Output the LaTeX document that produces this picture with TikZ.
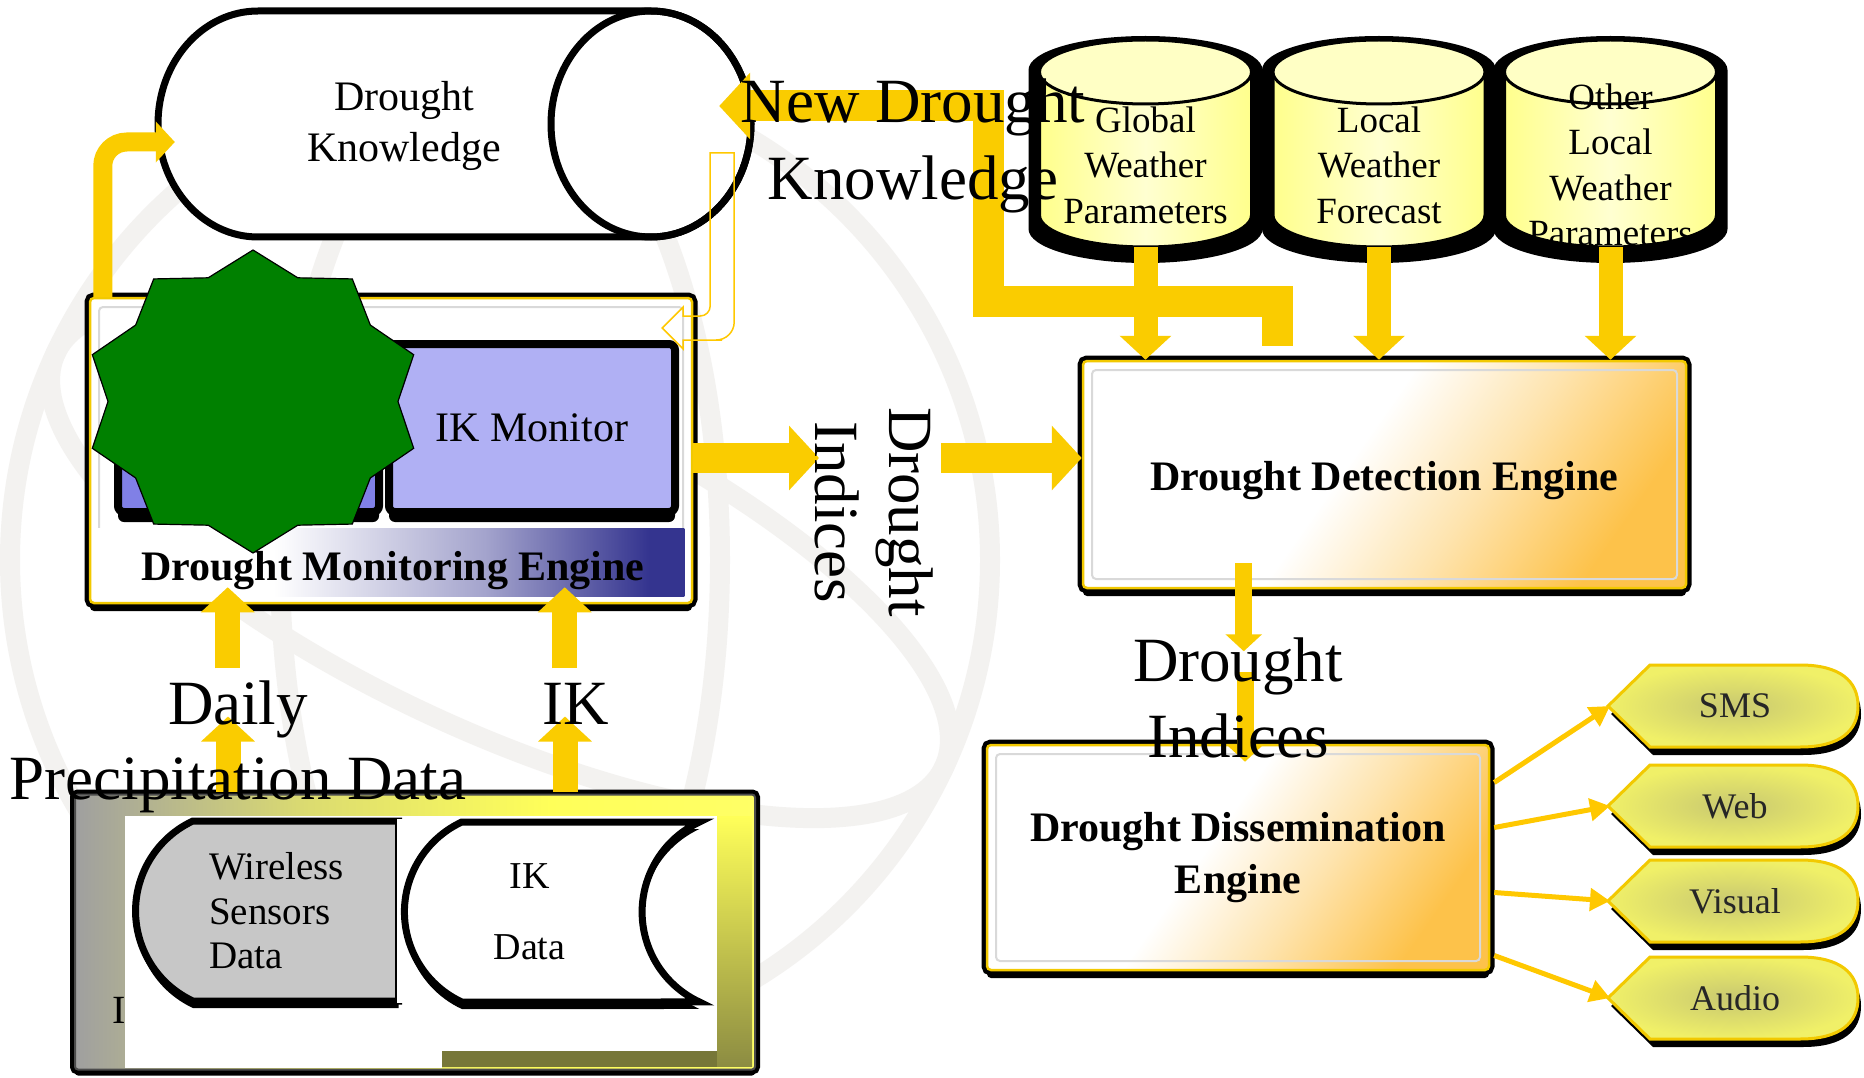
\documentclass[tikz,border=0pt]{standalone}
\usepackage{fontspec}
\setmainfont{Liberation Serif}
\usetikzlibrary{shapes.geometric, shapes.misc, arrows.meta, calc, shadows, positioning}

\definecolor{arrowgold}{RGB}{250,204,0}
\definecolor{linegold}{RGB}{255,200,0}
\definecolor{framegold}{RGB}{242,201,0}
\definecolor{dbyellow}{RGB}{255,255,140}
\definecolor{outyellow}{RGB}{240,240,104}
\definecolor{outcore}{RGB}{200,200,112}
\definecolor{panelblue}{RGB}{176,176,244}
\definecolor{paneldark}{RGB}{128,128,230}
\definecolor{bandblue}{RGB}{52,52,143}
\definecolor{stargreen}{RGB}{0,128,0}
\definecolor{ddeorange}{RGB}{253,194,74}
\definecolor{storeolive}{RGB}{140,140,66}
\definecolor{wmgray}{RGB}{243,242,240}

\pgfdeclarehorizontalshading{bandshade}{100bp}{color(0bp)=(white); color(25bp)=(white); color(40bp)=(white); color(58bp)=(bandblue!45); color(72bp)=(bandblue); color(100bp)=(bandblue)}
\pgfdeclarehorizontalshading{engineshade}{100bp}{color(0bp)=(white); color(25bp)=(white); color(46bp)=(white); color(60bp)=(ddeorange!45); color(75bp)=(ddeorange); color(100bp)=(ddeorange)}
\pgfdeclarehorizontalshading{storeshade}{100bp}{color(0bp)=(gray!75); color(25bp)=(gray!75); color(42bp)=(gray!40!yellow!70); color(60bp)=(yellow!65); color(75bp)=(yellow!60); color(100bp)=(yellow!60)}

\tikzstyle{engine} = [rectangle, rounded corners=4, draw=framegold, line width=2.5, preaction={draw=black, line width=11}, drop shadow={fill=black, opacity=1, shadow xshift=0pt, shadow yshift=-8pt}, path picture={\draw[gray!30, line width=2] ($(path picture bounding box.north west)+(9,9)$) rectangle ($(path picture bounding box.south east)+(-9,-9)$);}, font=\fontsize{42}{52}\selectfont\bfseries, align=center]
\tikzstyle{panel} = [rectangle, rounded corners=6, minimum width=286, minimum height=168, draw=black, line width=8, drop shadow={fill=black, opacity=1, shadow xshift=0pt, shadow yshift=-10pt}, font=\fontsize{42}{50}\selectfont]
\tikzstyle{burst} = [star, star points=10, star point ratio=1.165, minimum size=303, inner sep=0, xscale=1.115, fill=stargreen, draw=black, line width=1.2]
\tikzstyle{store} = [rectangle, rounded corners=3, minimum width=680, minimum height=275, draw=black!70, line width=2, shade, shading=storeshade, preaction={draw=black, line width=10}, drop shadow={fill=black, opacity=1, shadow xshift=0pt, shadow yshift=-6pt}]
\tikzstyle{datashape} = [rounded rectangle, rounded rectangle arc length=130, minimum height=180, draw=black, line width=7, drop shadow={fill=black, opacity=1, shadow xshift=0pt, shadow yshift=-7pt}, inner sep=0]
\tikzstyle{outbox} = [draw=framegold, line width=3, inner color=outcore, outer color=outyellow]
\tikzstyle{outtext} = [font=\fontsize{36}{40}\selectfont, text=black!85, inner sep=0]
\tikzstyle{bigtext} = [font=\fontsize{63}{76}\selectfont, align=center, inner sep=0]
\tikzstyle{dbtext} = [font=\fontsize{37}{45.5}\selectfont, align=center, inner sep=0]
\tikzstyle{fatarrow} = [draw=arrowgold, -{Triangle[length=0pt 1, width=0pt 2.1]}]
\tikzstyle{thinarrow} = [draw=linegold, line width=5, -{Triangle[length=0pt 4, width=0pt 4.4]}]

\newcommand{\outpath}[1]{(1608,#1) -- (1650,#1-41) -- (1800,#1-41) .. controls (1840,#1-41) and (1858,#1-25) .. (1858,#1) .. controls (1858,#1+25) and (1840,#1+41) .. (1800,#1+41) -- (1650,#1+41) -- cycle}

\begin{document}
\begin{tikzpicture}[x=1pt, y=-1pt]

\useasboundingbox (0,0) rectangle (1864,1078);
\fill[white] (0,0) rectangle (1864,1078);

% faint globe in the back
\begin{scope}[wmgray, line width=20]
\draw (500,560) circle (490);
\draw (500,560) ellipse (220 and 490);
\draw[rotate around={-25:(500,560)}] (500,560) ellipse (490 and 170);
\end{scope}

% Drought knowledge store (lying cylinder)
\draw[black, line width=7, fill=white] (651,11) -- (258,11) arc[start angle=270, end angle=90, x radius=100, y radius=113] -- (651,237) arc[start angle=90, end angle=-90, x radius=100, y radius=113] -- cycle;
\draw[black, line width=7] (651,124) ellipse [x radius=100, y radius=113];
\node (dk) [font=\fontsize{42}{51}\selectfont, align=center, inner sep=0, minimum width=492, minimum height=226] at (404,126) {Drought\\Knowledge};

% weather sources (standing cylinders)
\foreach \nm/\cx/\txt in {gwp/1145.5/{Global\\Weather\\Parameters}, lwf/1379/{Local\\Weather\\Forecast}, olwp/1610.5/{Other\\Local\\Weather\\Parameters}}
{
  \fill[black] (\cx-117,70) -- (\cx-117,229) arc[start angle=180, end angle=0, x radius=117, y radius=34] -- (\cx+117,70) arc[start angle=0, end angle=-180, x radius=117, y radius=34] -- cycle;
  \draw[black, line width=3, left color=dbyellow, right color=dbyellow, middle color=dbyellow!40!white] (\cx-106,72) -- (\cx-106,215) arc[start angle=180, end angle=0, x radius=106, y radius=32] -- (\cx+106,72) arc[start angle=0, end angle=-180, x radius=106, y radius=32] -- cycle;
  \draw[black, line width=3, fill=dbyellow!50!white] (\cx,72) ellipse [x radius=106, y radius=32];
  \node (\nm) [dbtext, minimum width=212, minimum height=164] at (\cx,165) {\txt};
}

% monitoring engine
\node (dme) [engine, fill=white, minimum width=602, minimum height=305] at (391,450.5) {};
\shade[shading=bandshade] ($(dme.south west)+(9,-8)$) rectangle ($(dme.south east)+(-9,-76)$);
\node (dmpanel) [panel, fill=paneldark, minimum width=261] at (248.5,428) {};
\node (ikmon) [panel, fill=panelblue] at (532,428) {IK Monitor};
\node (dmstar) [burst] at (253,401.5) {};
\node (dmlabel) [font=\fontsize{42}{50}\selectfont\bfseries, inner sep=0] at (393,571) {Drought Monitoring Engine};

% detection and dissemination engines
\node (dde) [engine, shade, shading=engineshade, shading angle=-35, minimum width=603, minimum height=227, text height=42] at (1384.5,474.5) {Drought Detection Engine};
\node (ddiss) [engine, shade, shading=engineshade, shading angle=-35, minimum width=502, minimum height=225] at (1238,857.5) {Drought Dissemination\\Engine};

% data store at the bottom
\node (dbox) [store] at (415,932) {};
\shade[top color=yellow!65, bottom color=storeolive] ($(dbox.north east)+(-39,22.5)$) rectangle ($(dbox.south east)+(-4,-4)$);
\fill[storeolive!85!black] ($(dbox.south west)+(368,-19.5)$) rectangle ($(dbox.south east)+(-39,-4)$);
\node (dbox title) [font=\fontsize{40}{48}\selectfont, inner sep=0, anchor=base west] at (112,1023) {I};
\fill[white] ($(dbox.north west)+(51,22.5)$) rectangle ($(dbox.south west)+(368,-2.5)$);
\fill[white] ($(dbox.north west)+(368,22.5)$) rectangle ($(dbox.south east)+(-39,-19.5)$);
\node (wsd) [datashape, fill=black!22, minimum width=263, rounded rectangle right arc=none, align=left, font=\fontsize{39}{44.5}\selectfont] at (276.5,911) {Wireless\\Sensors\\Data};
\fill[white] ($(wsd.east)+(-5,-92)$) rectangle ($(wsd.east)+(8,92)$);
\node (ikd) [datashape, fill=white, minimum width=295, rounded rectangle right arc=concave, align=center, font=\fontsize{38}{71}\selectfont] at (529.5,912) {IK\\Data};

% outputs
\foreach \outname/\outtext/\yy in {sms/SMS/706, web/Web/806, visual/Visual/901, audio/Audio/998}
{
  \fill[black, shift={(3,8)}] \outpath{\yy};
  \draw[outbox] \outpath{\yy};
  \node (\outname) [outtext] at (1735,\yy) {\outtext};
  \coordinate (\outname tip) at (1610,\yy);
}

% arrows
\draw [fatarrow, line width=19, rounded corners=24] ($(dme.north west)+(14,0)$) |- ($(dk.west)+(17,16)$);
\coordinate (fb top) at ($(dk.east)+(60,27)$);
\draw [draw=linegold, line width=1.5] (fb top) -- ++(24,0) -- ++(0,160) [rounded corners=18] -- ++(0,27) -- ++(-30,0) [sharp corners] -- ++(-21,0) -- ++(0,9) -- ++(-21,-21) -- ++(21,-21) -- ++(0,9) -- ++(10,0) [rounded corners=10] -- ++(17,0) -- ++(0,-30) [sharp corners] -- cycle;

\foreach \src in {gwp, lwf, olwp}
  \draw [fatarrow, line width=24] (\src.south) -- (\src.south |- dde.north);
\draw [fatarrow, line width=31] ($(dde.north west)+(196,-14)$) -- ++(0,-44) -- ++(-289,0) |- ($(dk.east)+(69,-20)$);

\coordinate (di in) at (819,458);
\coordinate (di out) at (941,458);
\draw [fatarrow, line width=30] (dme.east |- di in) -- (di in);
\draw [fatarrow, line width=30] (di out) -- (di out -| dde.west);

\draw [fatarrow, line width=25] ($(dbox.north west)+(154,-2)$) -- ++(0,-75);
\draw [fatarrow, line width=25] ($(dme.south west)+(139,64)$) -- ($(dme.south west)+(139,-17)$);
\draw [fatarrow, line width=25] ($(dbox.north west)+(491,-2)$) -- ++(0,-75);
\draw [fatarrow, line width=25] ($(dme.south west)+(476,64)$) -- ($(dme.south west)+(476,-17)$);

\draw [fatarrow, line width=17] ($(dde.south west)+(162,-26)$) -- ++(0,88);
\draw [fatarrow, line width=17] ($(ddiss.north)+(7,-72)$) -- ($(ddiss.north)+(7,18)$);

\foreach \outname/\dy in {sms/-75, web/-30, visual/35, audio/98}
  \draw [thinarrow] ($(ddiss.east)+(4,\dy)$) -- (\outname tip);

% labels on top
\node (ndk label) [bigtext, font=\fontsize{63}{77}\selectfont] at (913,146) {New Drought\\Knowledge};
\node (di label) [bigtext, rotate=-90, font=\fontsize{63}{74}\selectfont] at (874,512) {Drought\\Indices};
\node (dp label) [bigtext, font=\fontsize{63}{75}\selectfont] at (238,747) {Daily\\Precipitation Data};
\node (ik label) [bigtext] at (576,704) {IK};
\node (dd label) [bigtext] at (1238,698) {Drought\\Indices};

\end{tikzpicture}
\end{document}
